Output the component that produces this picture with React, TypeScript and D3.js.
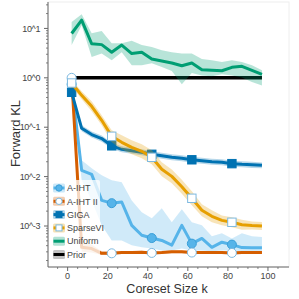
import * as d3 from "d3"

const ks = [2, 7, 12, 17, 22, 27, 32, 37, 42, 47, 52, 57, 62, 67, 72, 77, 82, 87, 92, 97]
const markerIdx = [0, 4, 8, 12, 16]

const aihtMean = [0.74, 0.0134, 0.0111, 0.0033, 0.0029, 0.00306, 0.00103, 0.00065, 0.00057, 0.00051, 0.00041, 0.00103, 0.00044, 0.00056, 0.00037, 0.00047, 0.00042, 0.000366, 0.000364, 0.000362]
const aihtLo = [0.61, 0.0084, 0.0033, 0.00103, 0.00051, 0.00051, 0.00041, 0.00037, 0.00035, 0.00032, 0.00032, 0.00035, 0.00032, 0.00032, 0.00031, 0.00032, 0.00032, 0.00031, 0.00031, 0.00031]
const aihtHi = [0.89, 0.0214, 0.0147, 0.0106, 0.0084, 0.0077, 0.0033, 0.0019, 0.00143, 0.00228, 0.00119, 0.00218, 0.00119, 0.00103, 0.00062, 0.00071, 0.00056, 0.00071, 0.00062, 0.0006]

const aiht2Mean = [1.0, 0.00037, 0.00035, 0.00028, 0.00028, 0.00029, 0.00029, 0.000295, 0.000285, 0.00029, 0.0003, 0.0003, 0.00029, 0.00029, 0.00029, 0.00029, 0.000285, 0.00029, 0.00029, 0.00029]
const aiht2Lo = [0.95, 0.0003, 0.00029, 0.00026, 0.00026, 0.00027, 0.00027, 0.000275, 0.000265, 0.00027, 0.00028, 0.00028, 0.00027, 0.00027, 0.00027, 0.00027, 0.000265, 0.00027, 0.00027, 0.00027]
const aiht2Hi = [1.05, 0.00046, 0.00042, 0.00031, 0.000305, 0.00031, 0.00031, 0.000315, 0.000305, 0.00031, 0.00032, 0.00032, 0.00031, 0.00031, 0.00031, 0.00031, 0.000305, 0.00031, 0.00031, 0.00031]

const gigaMean = [0.509, 0.0951, 0.071, 0.0589, 0.042, 0.0357, 0.0333, 0.031, 0.0283, 0.0264, 0.0246, 0.0235, 0.0219, 0.0209, 0.0199, 0.0195, 0.0183, 0.0177, 0.0173, 0.0169]
const gigaLo = [0.44, 0.083, 0.062, 0.051, 0.0365, 0.031, 0.029, 0.027, 0.0246, 0.023, 0.0214, 0.0204, 0.019, 0.0182, 0.0173, 0.017, 0.0159, 0.0154, 0.015, 0.0147]
const gigaHi = [0.59, 0.109, 0.082, 0.068, 0.0483, 0.041, 0.0383, 0.0357, 0.0325, 0.0304, 0.0283, 0.027, 0.0252, 0.024, 0.0229, 0.0224, 0.021, 0.0204, 0.0199, 0.0194]

const svMean = [0.785, 0.442, 0.265, 0.138, 0.0655, 0.0495, 0.0392, 0.0325, 0.0246, 0.0141, 0.0101, 0.00622, 0.00364, 0.00208, 0.00157, 0.0013, 0.00119, 0.00106, 0.00102, 0.001]
const svLo = [0.68, 0.367, 0.21, 0.109, 0.0495, 0.0357, 0.0283, 0.0234, 0.0177, 0.0102, 0.0073, 0.00449, 0.00263, 0.00157, 0.00119, 0.00103, 0.00094, 0.00084, 0.00085, 0.00083]
const svHi = [0.9, 0.533, 0.335, 0.174, 0.0867, 0.0686, 0.0543, 0.045, 0.0341, 0.0195, 0.014, 0.00862, 0.00505, 0.00275, 0.00208, 0.00164, 0.0015, 0.00134, 0.00123, 0.0012]

const unifMean = [7.9, 14.7, 4.9, 4.7, 3.3, 4.6, 3.1, 3.3, 2.4, 2.2, 2.0, 1.75, 2.0, 1.45, 1.42, 1.39, 1.63, 1.71, 1.42, 1.18]
const unifLo = [4.6, 11.6, 2.64, 3.1, 2.26, 3.3, 1.8, 1.8, 1.97, 1.66, 1.37, 0.74, 1.25, 1.12, 1.07, 1.18, 1.12, 1.02, 0.82, 0.7]
const unifHi = [13.5, 19.4, 8.0, 8.9, 5.0, 5.0, 5.6, 4.6, 4.2, 3.6, 3.3, 3.1, 3.1, 2.4, 2.26, 2.1, 2.26, 2.1, 1.8, 1.42]

const priorMean = ks.map(() => 1.0)

const xTicks = [0, 20, 40, 60, 80, 100]
const yTickExps = [-3, -2, -1, 0, 1]

type Series = {
  name: string
  color: string
  mean: number[]
  lo: number[] | null
  hi: number[] | null
  marker: "circle" | "square" | null
  markerFill: string
  markerEdge: string
}

const series: Series[] = [
  { name: "A-IHT", color: "#56B4E9", mean: aihtMean, lo: aihtLo, hi: aihtHi, marker: "circle", markerFill: "#56B4E9", markerEdge: "#3a9fd8" },
  { name: "A-IHT II", color: "#D55E00", mean: aiht2Mean, lo: aiht2Lo, hi: aiht2Hi, marker: "circle", markerFill: "#ffffff", markerEdge: "#7db9e0" },
  { name: "GIGA", color: "#0072B2", mean: gigaMean, lo: gigaLo, hi: gigaHi, marker: "square", markerFill: "#0072B2", markerEdge: "#0072B2" },
  { name: "SparseVI", color: "#E69F00", mean: svMean, lo: svLo, hi: svHi, marker: "square", markerFill: "#ffffff", markerEdge: "#7db9e0" },
  { name: "Uniform", color: "#009E73", mean: unifMean, lo: unifLo, hi: unifHi, marker: null, markerFill: "", markerEdge: "" },
  { name: "Prior", color: "#000000", mean: priorMean, lo: null, hi: null, marker: null, markerFill: "", markerEdge: "" },
]

const W = 299
const H = 299
const left = 48
const right = 289
const top = 2
const bottom = 267
const font = "'Liberation Sans', Arial, Helvetica, sans-serif"

function Marker({ kind, cx, cy, fill, stroke, r }: { kind: string; cx: number; cy: number; fill: string; stroke: string; r: number }) {
  if (kind === "circle") return <circle cx={cx} cy={cy} r={r} fill={fill} stroke={stroke} strokeWidth={1} />
  return <rect x={cx - r} y={cy - r} width={2 * r} height={2 * r} fill={fill} stroke={stroke} strokeWidth={1} />
}

export default function App() {
  const x = d3.scaleLinear().domain([-9.8, 110.5]).range([left, right])
  const y = d3.scaleLog().domain([Math.pow(10, -3.83), Math.pow(10, 1.535)]).range([bottom, top])

  const line = d3.line<number>().x((_, i) => x(ks[i])).y((d) => y(d))
  const area = (lo: number[], hi: number[]) =>
    d3.area<number>().x((_, i) => x(ks[i])).y0((_, i) => y(lo[i])).y1((_, i) => y(hi[i]))(ks)

  const minorY: number[] = []
  for (let e = -4; e <= 1; e++) {
    for (let j = 2; j <= 9; j++) {
      const v = j * Math.pow(10, e)
      if (v >= y.domain()[0] && v <= y.domain()[1]) minorY.push(v)
    }
  }
  const minorX = d3.range(-5, 110, 5).filter((v) => v % 20 !== 0)

  // prior first so the markers of the other series sit on top of it
  const drawOrder = [series[5], ...series.slice(0, 5)]

  const legendRowY = (i: number) => 188 + i * 13.3

  return (
    <div style={{ position: "fixed", left: 0, top: 0, width: W, height: H, background: "#fff" }}>
      <svg width={W} height={H} viewBox={`0 0 ${W} ${H}`} style={{ display: "block" }}>
        <rect x={left} y={top} width={right - left} height={bottom - top} fill="none" stroke="#eeeeee" strokeWidth={1} />

        {drawOrder.map((s) => (
          <g key={s.name}>
            {s.lo && s.hi && <path d={area(s.lo, s.hi) || ""} fill={s.color} fillOpacity={0.28} stroke="none" />}
            <path d={line(s.mean) || ""} fill="none" stroke={s.color} strokeWidth={s.name === "Prior" ? 3.5 : 3} strokeLinejoin="round" />
            {s.marker &&
              markerIdx.map((i) => (
                <Marker key={i} kind={s.marker as string} cx={x(ks[i])} cy={y(s.mean[i])} fill={s.markerFill} stroke={s.markerEdge} r={s.marker === "circle" ? 4.5 : 4.2} />
              ))}
          </g>
        ))}

        {/* axes */}
        <line x1={left} x2={left} y1={top} y2={bottom} stroke="#666" strokeWidth={1} />
        <line x1={left} x2={right} y1={bottom} y2={bottom} stroke="#666" strokeWidth={1} />
        {yTickExps.map((e) => (
          <g key={e}>
            <line x1={left - 4} x2={left} y1={y(Math.pow(10, e))} y2={y(Math.pow(10, e))} stroke="#666" />
            <text x={40} y={y(Math.pow(10, e)) + 3.2} textAnchor="end" fontSize={9} letterSpacing={-0.4} fill="#444" fontFamily={font}>
              {`10^${e}`}
            </text>
          </g>
        ))}
        {minorY.map((v, i) => (
          <line key={i} x1={left - 2} x2={left} y1={y(v)} y2={y(v)} stroke="#666" strokeWidth={0.8} />
        ))}
        {xTicks.map((t) => (
          <g key={t}>
            <line x1={x(t)} x2={x(t)} y1={bottom} y2={bottom + 4} stroke="#666" />
            <text x={x(t)} y={279} textAnchor="middle" fontSize={9} fill="#444" fontFamily={font}>
              {t}
            </text>
          </g>
        ))}
        {minorX.map((t) => (
          <line key={t} x1={x(t)} x2={x(t)} y1={bottom} y2={bottom + 2} stroke="#666" strokeWidth={0.8} />
        ))}

        <text x={167} y={293} textAnchor="middle" fontSize={12.5} fill="#333" fontFamily={font}>
          Coreset Size k
        </text>
        <text transform={`translate(19.5,133.5) rotate(-90)`} textAnchor="middle" fontSize={13} fill="#333" fontFamily={font}>
          Forward KL
        </text>

        {/* legend */}
        <rect x={50} y={180} width={50} height={81} fill="#ffffff" fillOpacity={0.75} rx={2} />
        {series.map((s, i) => {
          const cy = legendRowY(i)
          return (
            <g key={s.name}>
              <rect x={53} y={cy - 4.5} width={12} height={9} rx={1.5} fill={s.name === "Prior" ? "#888" : s.color} fillOpacity={s.name === "Prior" ? 0.5 : 0.3} />
              <line x1={53.5} x2={64.5} y1={cy} y2={cy} stroke={s.color} strokeWidth={3} />
              {s.marker && <Marker kind={s.marker} cx={59} cy={cy} fill={s.markerFill} stroke={s.markerEdge} r={s.marker === "circle" ? 3.2 : 3} />}
              <text x={67} y={cy + 3.2} fontSize={9} fill="#444" fontFamily={font}>
                {s.name}
              </text>
            </g>
          )
        })}
      </svg>
    </div>
  )
}
